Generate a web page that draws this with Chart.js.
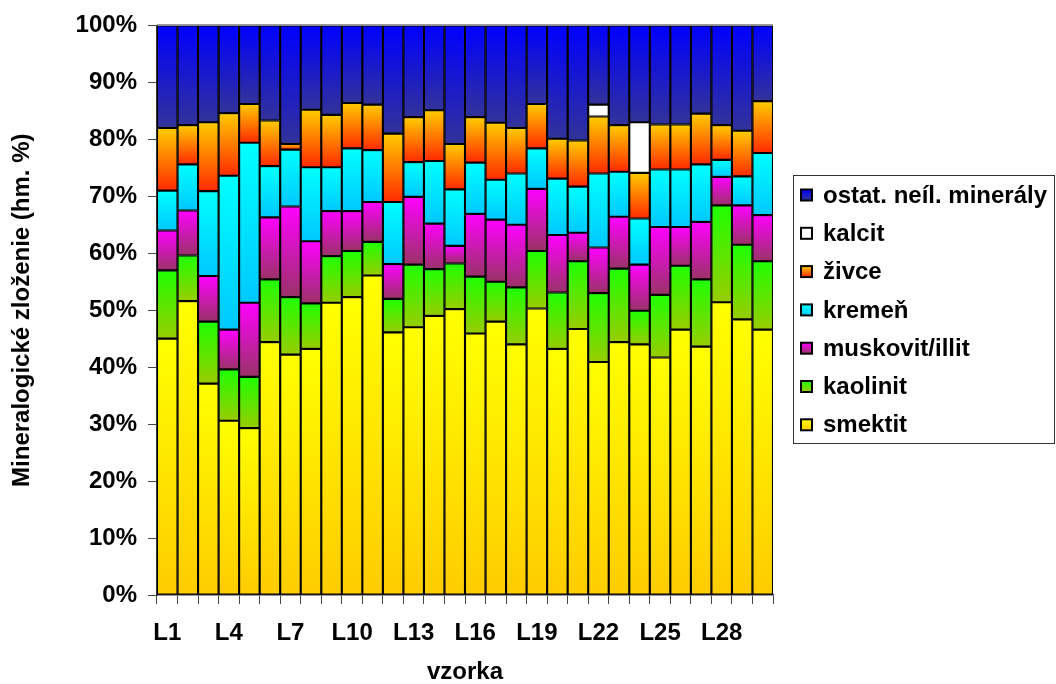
<!DOCTYPE html>
<html lang="sk">
<head>
<meta charset="utf-8">
<title>Mineralogické zloženie</title>
<script src="https://cdn.jsdelivr.net/npm/chart.js@4/dist/chart.umd.min.js"></script>
<style>
  html, body { margin: 0; padding: 0; background: #fff; }
  #wrap { position: relative; width: 1056px; height: 684px; }
</style>
</head>
<body>
<div id="wrap"><canvas id="c"></canvas></div>
<script>
// Vzorky L1 – L30
const categories = Array.from({ length: 30 }, (_, i) => 'L' + (i + 1));

// Obsah minerálov (hm. %), poradie od spodu stĺpca
const smektit = [45.0, 51.6, 37.1, 30.6, 29.3, 44.4, 42.2, 43.2, 51.3, 52.3,
                 56.1, 46.1, 47.0, 49.0, 50.2, 45.9, 48.0, 44.0, 50.3, 43.2,
                 46.7, 40.9, 44.4, 44.0, 41.7, 46.6, 43.6, 51.4, 48.4, 46.6];
const kaolinit = [12.0, 8.0, 10.9, 9.0, 9.0, 11.0, 10.1, 8.0, 8.2, 8.1,
                  5.9, 5.9, 11.0, 8.2, 8.0, 10.0, 7.0, 10.0, 10.1, 9.9,
                  11.9, 12.1, 12.9, 5.9, 11.0, 11.2, 11.8, 17.0, 13.1, 12.0];
const muskovit = [7.0, 7.9, 8.0, 7.0, 13.0, 10.9, 15.9, 10.9, 7.9, 7.0,
                  7.0, 6.1, 11.9, 8.0, 3.1, 11.0, 10.9, 11.0, 10.9, 10.1,
                  5.0, 8.0, 9.1, 8.1, 11.9, 6.8, 10.1, 5.0, 6.9, 8.1];
const kremen = [7.0, 8.1, 14.9, 27.0, 28.1, 9.0, 10.0, 13.0, 7.7, 11.0,
                9.1, 10.9, 6.1, 11.0, 9.9, 9.0, 7.0, 9.0, 7.1, 9.9,
                8.1, 13.0, 7.9, 8.1, 10.1, 10.1, 10.1, 3.0, 5.1, 10.9];
const zivce = [11.0, 6.9, 12.1, 11.0, 6.8, 8.0, 1.0, 10.1, 9.2, 8.0,
               8.0, 12.0, 7.9, 8.9, 8.0, 8.0, 10.0, 8.0, 7.8, 7.0,
               8.1, 10.0, 8.2, 8.0, 7.9, 7.9, 8.9, 6.1, 8.0, 9.1];
const kalcit = [0, 0, 0, 0, 0, 0, 0, 0, 0, 0,
                0, 0, 0, 0, 0, 0, 0, 0, 0, 0,
                0, 2.1, 0, 8.9, 0, 0, 0, 0, 0, 0];
const ostatne = [18.0, 17.5, 17.0, 15.4, 13.8, 16.7, 20.8, 14.8, 15.7, 13.6,
                 13.9, 19.0, 16.1, 14.9, 20.8, 16.1, 17.1, 18.0, 13.8, 19.9,
                 20.2, 13.9, 17.5, 17.0, 17.4, 17.4, 15.5, 17.5, 18.5, 13.3];

const seriesNames = ['smektit', 'kaolinit', 'muskovit/illit', 'kremeň', 'živce', 'kalcit', 'ostat. neíl. minerály'];
const seriesValues = [smektit, kaolinit, muskovit, kremen, zivce, kalcit, ostatne];

// Vertikálny prechod farieb v každom segmente (horná / spodná farba)
const topColors    = ['#FFFF00', '#1EFF00', '#FF00FF', '#00FFFF', '#FFCC00', '#FFFFFF', '#0000FF'];
const bottomColors = ['#FFCC00', '#99CC00', '#993366', '#00C8FF', '#FF2A00', '#FFFFFF', '#333399'];

const FONT = '"Liberation Sans", Arial, Helvetica, sans-serif';
const FSIZE = 24;

function segmentFill(ctx) {
  const d = ctx.datasetIndex;
  const chart = ctx.chart;
  const y = chart.scales && chart.scales.y;
  if (ctx.type !== 'data' || !chart.chartArea || !y) return topColors[d];
  const i = ctx.dataIndex;
  let base = 0;
  for (let k = 0; k < d; k++) base += chart.data.datasets[k].data[i];
  const v = chart.data.datasets[d].data[i];
  const yTop = y.getPixelForValue(base + v);
  const yBot = y.getPixelForValue(base);
  if (!(yBot - yTop > 0.5)) return topColors[d];
  const g = chart.ctx.createLinearGradient(0, yTop, 0, yBot);
  g.addColorStop(0, topColors[d]);
  g.addColorStop(1, bottomColors[d]);
  return g;
}

// Rámik hore a legenda vpravo
const decorations = {
  id: 'decorations',
  afterDatasetsDraw(chart) {
    const { ctx, chartArea } = chart;
    ctx.save();
    ctx.strokeStyle = '#9a9a9a';
    ctx.lineWidth = 1.5;
    ctx.beginPath();
    ctx.moveTo(chartArea.left, chartArea.top - 0.75);
    ctx.lineTo(chartArea.right, chartArea.top - 0.75);
    ctx.stroke();
    ctx.restore();
  },
  afterDraw(chart) {
    const ctx = chart.ctx;
    const box = { x: 793.5, y: 175.5, w: 261, h: 268 };
    ctx.save();
    ctx.fillStyle = '#fff';
    ctx.fillRect(box.x, box.y, box.w, box.h);
    ctx.strokeStyle = '#333';
    ctx.lineWidth = 1;
    ctx.strokeRect(box.x, box.y, box.w, box.h);
    const sets = chart.data.datasets;
    const n = sets.length;
    const rowH = 38.3;
    const firstY = 195;
    ctx.font = 'bold ' + FSIZE + 'px ' + FONT;
    ctx.textBaseline = 'middle';
    ctx.textAlign = 'left';
    for (let r = 0; r < n; r++) {
      const d = n - 1 - r;
      const cy = firstY + r * rowH;
      const sx = 801, sz = 11;
      const g = ctx.createLinearGradient(0, cy - sz / 2, 0, cy + sz / 2);
      g.addColorStop(0, topColors[d]);
      g.addColorStop(1, bottomColors[d]);
      ctx.fillStyle = g;
      ctx.fillRect(sx, cy - sz / 2, sz, sz);
      ctx.strokeStyle = '#000';
      ctx.lineWidth = 2;
      ctx.strokeRect(sx, cy - sz / 2, sz, sz);
      ctx.fillStyle = '#000';
      ctx.fillText(sets[d].label, 823, cy + 1);
    }
    ctx.restore();
  }
};

const datasets = seriesNames.map((name, d) => ({
  label: name,
  data: seriesValues[d],
  backgroundColor: segmentFill,
  borderColor: '#000',
  borderWidth: 1.4,
  borderSkipped: false,
  barPercentage: 1,
  categoryPercentage: 1
}));

new Chart(document.getElementById('c'), {
  type: 'bar',
  data: { labels: categories, datasets },
  plugins: [decorations],
  options: {
    responsive: true,
    maintainAspectRatio: false,
    animation: false,
    layout: { padding: { top: 25, right: 283, bottom: 0, left: 0 } },
    plugins: {
      legend: { display: false },
      tooltip: { enabled: false }
    },
    scales: {
      x: {
        stacked: true,
        afterFit(scale) { scale.height = 89; },
        grid: { offset: true, drawOnChartArea: false, tickLength: 9, color: '#444', tickWidth: 1 },
        border: { display: true, color: '#333', width: 1.5 },
        ticks: {
          autoSkip: false,
          maxRotation: 0,
          padding: 15,
          color: '#000',
          font: { family: FONT, size: FSIZE, weight: 'bold' },
          callback(value, index) { return index % 3 === 0 ? this.getLabelForValue(value) : ''; }
        },
        title: {
          display: true,
          text: 'vzorka',
          color: '#000',
          font: { family: FONT, size: FSIZE, weight: 'bold', lineHeight: 1 },
          padding: { top: 0, bottom: 0 }
        }
      },
      y: {
        stacked: true,
        min: 0,
        max: 100,
        afterFit(scale) { scale.width = 157; },
        grid: { drawOnChartArea: false, tickLength: 9, color: '#444' },
        border: { display: true, color: '#333', width: 1.5 },
        ticks: {
          stepSize: 10,
          padding: 11,
          color: '#000',
          font: { family: FONT, size: FSIZE, weight: 'bold' },
          callback(v) { return v + '%'; }
        },
        title: {
          display: true,
          text: 'Mineralogické zloženie (hm. %)',
          color: '#000',
          font: { family: FONT, size: FSIZE, weight: 'bold', lineHeight: 1 },
          padding: { top: 10, bottom: 0 }
        }
      }
    }
  }
});
</script>
</body>
</html>
